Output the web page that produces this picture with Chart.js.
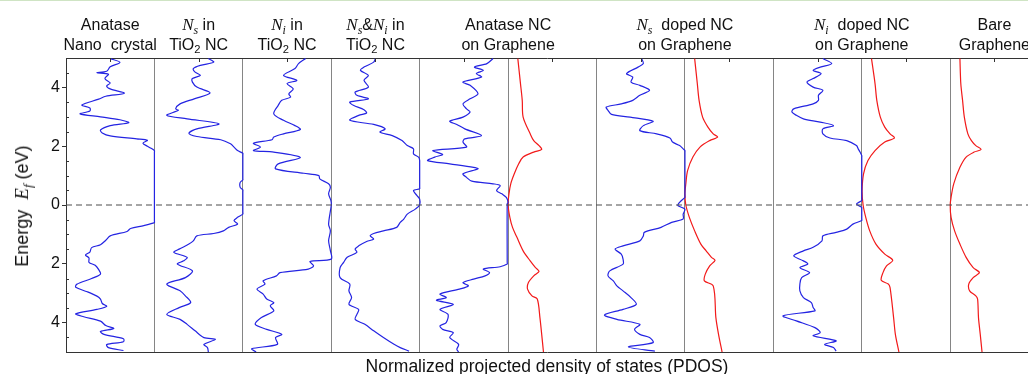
<!DOCTYPE html>
<html>
<head>
<meta charset="utf-8">
<title>PDOS panels</title>
<script src="https://cdn.jsdelivr.net/npm/chart.js@4.4.1/dist/chart.umd.min.js"></script>
<style>
  html, body { margin: 0; padding: 0; background: #fff; overflow: hidden; }
  #wrap { position: relative; width: 1028px; height: 374px; font-family: "Liberation Sans", Arial, sans-serif; color: #111; }
  #topline { position: absolute; left: 0; top: 0; width: 100%; height: 1px; background: #cfe4c4; }
  .ptitle { position: absolute; top: 15px; transform: translateX(-50%); text-align: center; font-size: 16px; line-height: 20px; white-space: pre; }
  .sym { font-family: "Liberation Serif", "Times New Roman", serif; font-style: italic; font-size: 17px; }
  sub { font-size: 70%; line-height: 0; vertical-align: baseline; position: relative; top: 0.3em; }
  #ytitle { position: absolute; left: 22px; top: 206px; transform: translate(-50%, -50%) rotate(-90deg); font-size: 18px; white-space: pre; }
  #ytitle .sym { font-size: 19px; }
</style>
</head>
<body>
<div id="wrap">
  <canvas id="pdos" width="1028" height="374"></canvas>
  <div id="topline"></div>
  <div id="ytitle">Energy  <span class="sym">E<sub>f</sub></span> (eV)</div>
</div>
<script>
// energy axis (eV) and tick labels
const yMin = -5, yMax = 5;
const energyTicks = [-4, -2, 0, 2, 4];
const fermiLevel = 0;

// x is measured in panel widths; panel borders at whole numbers
const xMin = 0, xMax = 10.88;
const dividers = [1, 2, 3, 4, 5, 6, 7, 8, 9, 10];
const panelCenters = [0.5, 1.5, 2.5, 3.5, 4.5, 5.5, 6.5, 7.5, 8.5, 9.5, 10.5];

const panelTitles = [
  { at: 0.5, html: 'Anatase\nNano  crystal' },
  { at: 1.5, html: '<span class="sym">N<sub>s</sub></span> in\nTiO<sub>2</sub> NC' },
  { at: 2.5, html: '<span class="sym">N<sub>i</sub></span> in\nTiO<sub>2</sub> NC' },
  { at: 3.5, html: '<span class="sym">N<sub>s</sub></span>&amp;<span class="sym">N<sub>i</sub></span> in\nTiO<sub>2</sub> NC' },
  { at: 5, html: 'Anatase NC\non Graphene' },
  { at: 7, html: '<span class="sym">N<sub>s</sub></span>  doped NC\non Graphene' },
  { at: 9, html: '<span class="sym">N<sub>i</sub></span>  doped NC\non Graphene' },
  { at: 10.5, html: 'Bare\nGraphene' }
];

// --- Anatase nano crystal (TiO2 PDOS, normalized to panel width)
const eAnatase = [4.98,4.85,4.7,4.55,4.5,4.45,4.3,4.15,4.05,3.95,3.8,3.7,3.6,3.4,3.3,3.2,3.1,3.0,2.9,2.8,2.7,2.55,2.45,2.35,2.25,2.2,2.1,2.0,1.95,1.85,1.8,-0.55,-0.6,-0.7,-0.8,-0.9,-1.05,-1.2,-1.35,-1.45,-1.6,-1.7,-1.8,-1.95,-2.05,-2.2,-2.35,-2.5,-2.7,-2.8,-2.95,-3.1,-3.2,-3.35,-3.45,-3.55,-3.7,-3.8,-3.95,-4.1,-4.2,-4.3,-4.4,-4.55,-4.65,-4.75,-4.85,-4.95];
const dAnatase = [0.50,0.39,0.50,0.54,0.65,0.52,0.56,0.50,0.54,0.50,0.34,0.55,0.63,0.82,0.73,0.73,0.84,0.61,0.39,0.29,0.50,0.61,0.59,0.50,0.20,0.08,0.13,0.08,0.05,0,0,0,0,0.12,0.27,0.31,0.50,0.55,0.61,0.71,0.73,0.78,0.74,0.74,0.67,0.63,0.61,0.71,0.88,0.89,0.76,0.65,0.61,0.59,0.54,0.65,0.89,0.80,0.61,0.55,0.46,0.61,0.57,0.35,0.35,0.54,0.52,0.35];

// --- Ns in TiO2 NC
const eNs = [4.98,4.86,4.75,4.64,4.52,4.41,4.30,4.18,4.01,3.81,3.61,3.44,3.27,3.22,3.05,2.93,2.76,2.59,2.44,2.33,2.22,2.08,1.97,1.85,1.76,1.7,0.9,0.85,0.77,0.6,0.52,0.45,-0.25,-0.31,-0.42,-0.53,-0.65,-0.76,-0.88,-0.97,-1.05,-1.22,-1.33,-1.5,-1.61,-1.78,-1.9,-2.01,-2.24,-2.47,-2.69,-2.92,-3.09,-3.32,-3.49,-3.72,-3.89,-4.06,-4.28,-4.51,-4.57,-4.74,-4.85,-5.0];
const dNs = [0.39,0.33,0.48,0.56,0.54,0.48,0.57,0.57,0.52,0.37,0.55,0.71,0.76,0.73,0.86,0.63,0.27,0.52,0.61,0.52,0.25,0.14,0.10,0.06,0,0,0,0,0.03,0.03,0,0,0,0,0.06,0.10,0.06,0.16,0.22,0.33,0.52,0.56,0.61,0.72,0.78,0.63,0.67,0.74,0.57,0.65,0.86,0.71,0.65,0.59,0.72,0.86,0.71,0.63,0.54,0.44,0.31,0.44,0.40,0.39];

// --- Ni in TiO2 NC
const eNi = [4.98,4.81,4.64,4.41,4.24,4.13,3.95,3.78,3.67,3.56,3.39,3.10,2.88,2.70,2.57,2.42,2.31,2.22,2.10,1.97,1.85,1.80,1.62,1.40,1.23,1.08,1.0,0.89,0.72,0.60,0.38,0.15,0,-0.65,-0.88,-1.22,-1.55,-1.84,-1.92,-2.07,-2.18,-2.30,-2.41,-2.58,-2.69,-2.86,-3.03,-3.20,-3.32,-3.43,-3.60,-3.83,-4.06,-4.23,-4.40,-4.51,-4.74,-4.89,-5.0];
const dNi = [0.29,0.37,0.41,0.54,0.39,0.50,0.43,0.48,0.46,0.56,0.60,0.65,0.54,0.41,0.35,0.54,0.65,0.67,0.88,0.80,0.88,0.65,0.35,0.60,0.63,0.31,0.14,0.13,0.03,0.01,0.03,0.004,0,0.03,0.01,0.03,0.01,0,0.24,0.20,0.26,0.58,0.62,0.77,0.75,0.84,0.77,0.73,0.65,0.69,0.65,0.79,0.86,0.73,0.56,0.63,0.61,0.90,0.85];

// --- Ns & Ni in TiO2 NC
const eNsNi = [4.98,4.86,4.69,4.58,4.41,4.24,4.01,3.84,3.73,3.61,3.50,3.39,3.24,3.13,3.05,2.88,2.74,2.59,2.48,2.36,2.19,2.02,1.91,1.74,1.62,1.51,1.45,0.6,0.55,0.49,0.32,0.20,0,-0.14,-0.31,-0.48,-0.59,-0.76,-0.88,-0.97,-1.05,-1.16,-1.24,-1.39,-1.50,-1.61,-1.78,-1.95,-2.13,-2.47,-2.69,-2.92,-3.15,-3.38,-3.55,-3.72,-3.89,-4.06,-4.28,-4.51,-4.74,-4.85,-4.97];
const dNsNi = [0.50,0.52,0.63,0.67,0.58,0.63,0.58,0.73,0.71,0.58,0.79,0.75,0.63,0.60,0.69,0.79,0.52,0.39,0.45,0.31,0.20,0.14,0.07,0.07,0.01,0,0,0,0,0.07,0.03,0,0,0.05,0.14,0.18,0.22,0.26,0.41,0.52,0.56,0.52,0.60,0.69,0.73,0.71,0.82,0.86,0.90,0.90,0.79,0.80,0.77,0.80,0.69,0.71,0.73,0.62,0.52,0.41,0.29,0.22,0.12];

// --- Anatase NC on graphene: TiO2 part and graphene part
const eAnG = [4.98,4.81,4.69,4.58,4.47,4.35,4.18,4.07,3.78,3.61,3.44,3.27,3.16,2.99,2.85,2.74,2.59,2.36,2.25,2.14,1.97,1.85,1.72,1.63,1.51,1.40,1.28,1.23,1.06,0.94,0.81,0.72,0.66,0.49,0.38,0.26,0.09,0.04,-1.95,-2.01,-2.10,-2.18,-2.30,-2.41,-2.52,-2.64,-2.75,-2.86,-3.03,-3.15,-3.24,-3.38,-3.55,-3.72,-4.0,-4.11,-4.23,-4.34,-4.51,-4.74,-4.91,-5.0];
const dAnG = [0.17,0.24,0.38,0.28,0.36,0.30,0.51,0.43,0.34,0.43,0.51,0.47,0.43,0.51,0.66,0.58,0.49,0.30,0.49,0.51,0.47,0.85,0.74,0.83,0.91,0.66,0.39,0.34,0.51,0.47,0.41,0.17,0.09,0.13,0.07,0.02,0,0.01,0.01,0.01,0.09,0.28,0.21,0.26,0.39,0.51,0.45,0.55,0.77,0.70,0.81,0.62,0.77,0.68,0.70,0.77,0.74,0.62,0.66,0.56,0.58,0.56];
const eAnGr = [4.98,4.13,3.56,2.99,2.42,2.19,2.02,1.89,1.80,1.63,1.40,1.06,0.72,0.38,0,-0.42,-0.76,-1.10,-1.56,-1.90,-2.13,-2.26,-2.41,-2.64,-2.86,-3.09,-3.20,-3.83,-4.40,-5.0];
const dAnGr = [0.11,0.14,0.16,0.17,0.25,0.29,0.35,0.38,0.29,0.17,0.12,0.07,0.03,0.01,0,0.02,0.05,0.10,0.17,0.25,0.31,0.35,0.29,0.23,0.22,0.27,0.33,0.36,0.38,0.40];

// --- Ns doped NC on graphene
const eNsG = [4.98,4.81,4.69,4.47,4.35,4.18,4.07,3.90,3.73,3.56,3.44,3.33,3.22,3.08,2.99,2.85,2.70,2.53,2.42,2.28,2.14,2.02,1.91,1.85,1.8,0.3,0.26,0.09,-0.02,-0.14,-0.31,-0.48,-0.59,-0.76,-0.93,-1.05,-1.22,-1.39,-1.50,-1.67,-1.84,-2.01,-2.24,-2.41,-2.58,-2.75,-2.92,-3.15,-3.38,-3.55,-3.74,-3.89,-4.06,-4.23,-4.40,-4.51,-4.68,-4.83,-4.97];
const dNsG = [0.49,0.47,0.53,0.66,0.59,0.61,0.51,0.40,0.51,0.59,0.72,0.89,0.87,0.83,0.62,0.36,0.47,0.51,0.32,0.17,0.14,0.06,0.02,0,0,0,0,0.06,0.08,0,0.02,0.02,0.15,0.27,0.46,0.47,0.51,0.70,0.79,0.72,0.70,0.70,0.85,0.87,0.81,0.77,0.70,0.61,0.55,0.70,0.91,0.77,0.51,0.57,0.51,0.40,0.36,0.64,0.34];
const eNsGr = [4.98,4.13,3.56,2.99,2.65,2.42,2.31,2.19,1.97,1.63,1.17,0.72,0.38,0,-0.42,-0.88,-1.33,-1.56,-1.78,-1.88,-2.07,-2.35,-2.58,-2.75,-3.83,-4.40,-5.0];
const dNsGr = [0.11,0.14,0.16,0.20,0.26,0.32,0.37,0.28,0.17,0.09,0.03,0.01,0,0.01,0.05,0.11,0.18,0.24,0.30,0.34,0.28,0.23,0.22,0.32,0.35,0.38,0.42];

// --- Ni doped NC on graphene
const eNiG = [4.98,4.81,4.69,4.58,4.47,4.30,4.18,4.01,3.90,3.73,3.56,3.44,3.27,3.16,3.05,2.93,2.82,2.70,2.59,2.42,2.28,2.19,2.02,1.91,1.80,1.68,1.62,0.2,0.15,0.03,-0.08,-0.13,-0.48,-0.53,-0.65,-0.82,-0.93,-1.05,-1.22,-1.44,-1.56,-1.73,-1.90,-2.01,-2.13,-2.30,-2.47,-2.69,-2.92,-3.15,-3.32,-3.49,-3.60,-3.77,-3.94,-4.17,-4.34,-4.45,-4.62,-4.74,-4.85,-4.97];
const dNiG = [0.44,0.34,0.47,0.55,0.46,0.55,0.62,0.55,0.44,0.49,0.49,0.55,0.77,0.79,0.74,0.66,0.47,0.32,0.44,0.44,0.36,0.17,0.06,0.04,0.02,0,0,0,0,0.06,0,0,0,0,0.10,0.17,0.29,0.44,0.45,0.55,0.66,0.77,0.66,0.61,0.70,0.59,0.68,0.70,0.70,0.66,0.57,0.55,0.53,0.89,0.74,0.53,0.47,0.55,0.29,0.42,0.32,0.29];
const eNiGr = [4.98,4.13,3.56,2.99,2.65,2.42,2.28,2.14,1.85,1.51,1.06,0.49,0,-0.42,-0.88,-1.33,-1.67,-1.88,-2.07,-2.30,-2.56,-2.69,-2.81,-3.83,-4.40,-5.0];
const dNiGr = [0.11,0.15,0.17,0.21,0.26,0.32,0.37,0.26,0.15,0.07,0.02,0.004,0.015,0.045,0.09,0.16,0.26,0.35,0.28,0.24,0.22,0.30,0.32,0.36,0.38,0.42];

// --- Bare graphene
const eBare = [4.98,4.13,3.56,2.99,2.42,2.19,2.02,1.89,1.80,1.63,1.28,0.72,0.26,0,-0.42,-0.88,-1.33,-1.78,-2.13,-2.30,-2.47,-2.69,-2.92,-3.09,-3.20,-3.83,-4.40,-5.0];
const dBare = [0.11,0.12,0.14,0.16,0.20,0.24,0.29,0.35,0.27,0.18,0.11,0.04,0.01,0,0.01,0.05,0.11,0.18,0.26,0.33,0.26,0.21,0.22,0.29,0.31,0.32,0.34,0.36];

const BLUE = '#2424e2';
const RED = '#f21a1a';

// zero = panel border the curve grows from, side = -1 grows left, +1 grows right
const curves = [
  { e: eAnatase, d: dAnatase, zero: 1, side: -1, color: BLUE },
  { e: eNs, d: dNs, zero: 2, side: -1, color: BLUE },
  { e: eNi, d: dNi, zero: 3, side: -1, color: BLUE },
  { e: eNsNi, d: dNsNi, zero: 4, side: -1, color: BLUE },
  { e: eAnG, d: dAnG, zero: 5, side: -1, color: BLUE },
  { e: eAnGr, d: dAnGr, zero: 5, side: 1, color: RED },
  { e: eNsG, d: dNsG, zero: 7, side: -1, color: BLUE },
  { e: eNsGr, d: dNsGr, zero: 7, side: 1, color: RED },
  { e: eNiG, d: dNiG, zero: 9, side: -1, color: BLUE },
  { e: eNiGr, d: dNiGr, zero: 9, side: 1, color: RED },
  { e: eBare, d: dBare, zero: 10, side: 1, color: RED }
];

const datasets = [{
  data: [{ x: xMin, y: fermiLevel }, { x: xMax, y: fermiLevel }],
  borderColor: '#4d4d4d',
  borderWidth: 1.2,
  borderDash: [6, 4],
  pointRadius: 0,
  showLine: true
}];
curves.forEach(c => {
  datasets.push({
    data: c.e.map((v, i) => ({ x: c.zero + c.side * c.d[i], y: v })),
    borderColor: c.color,
    borderWidth: 1.2,
    pointRadius: 0,
    showLine: true,
    tension: 0.3
  });
});

// inner minor ticks on the energy axis and top ticks at panel centres
const frameTicks = {
  id: 'frameTicks',
  afterDatasetsDraw(chart) {
    const { ctx, chartArea: a, scales: { x, y } } = chart;
    ctx.save();
    ctx.strokeStyle = '#333';
    ctx.lineWidth = 1;
    ctx.beginPath();
    for (let v = yMin + 0.5; v < yMax; v += 0.5) {
      if (energyTicks.includes(v)) continue;
      const py = Math.round(y.getPixelForValue(v)) + 0.5;
      ctx.moveTo(a.left, py);
      ctx.lineTo(a.left + 3, py);
    }
    panelCenters.forEach(c => {
      const px = Math.round(x.getPixelForValue(c)) + 0.5;
      ctx.moveTo(px, a.top);
      ctx.lineTo(px, a.top + 4);
    });
    ctx.stroke();
    ctx.restore();
  }
};

const chart = new Chart(document.getElementById('pdos'), {
  type: 'scatter',
  data: { datasets: datasets },
  options: {
    responsive: false,
    animation: false,
    layout: { padding: 0 },
    plugins: { legend: { display: false }, tooltip: { enabled: false } },
    scales: {
      x: {
        type: 'linear', position: 'bottom', min: xMin, max: xMax,
        afterBuildTicks: s => { s.ticks = dividers.map(v => ({ value: v })); },
        afterFit: s => { s.height = 22; },
        grid: { color: '#858585', lineWidth: 1, drawTicks: false },
        border: { display: true, color: '#333', width: 1 },
        ticks: { display: false },
        title: {
          display: true,
          text: 'Normalized projected density of states (PDOS)',
          color: '#111',
          font: { family: '"Liberation Sans", Arial, sans-serif', size: 17.5, lineHeight: 0.8 },
          padding: 0
        }
      },
      xTop: {
        type: 'linear', position: 'top', min: xMin, max: xMax,
        afterFit: s => { s.height = 58; },
        grid: { display: false },
        border: { display: true, color: '#333', width: 1 },
        ticks: { display: false }
      },
      y: {
        type: 'linear', min: yMin, max: yMax,
        afterBuildTicks: s => { s.ticks = energyTicks.map(v => ({ value: v })); },
        afterFit: s => { s.width = 66; },
        grid: { drawOnChartArea: false, drawTicks: true, tickLength: 4, color: '#333' },
        border: { display: true, color: '#333', width: 1 },
        ticks: {
          callback: v => String(Math.abs(v)),
          color: '#111',
          padding: 2,
          font: { family: '"Liberation Sans", Arial, sans-serif', size: 16 }
        }
      }
    }
  },
  plugins: [frameTicks]
});

// panel headings, placed on the chart's own x scale
const wrap = document.getElementById('wrap');
panelTitles.forEach(t => {
  const div = document.createElement('div');
  div.className = 'ptitle';
  div.innerHTML = t.html;
  div.style.left = chart.scales.x.getPixelForValue(t.at) + 'px';
  wrap.appendChild(div);
});
</script>
</body>
</html>
